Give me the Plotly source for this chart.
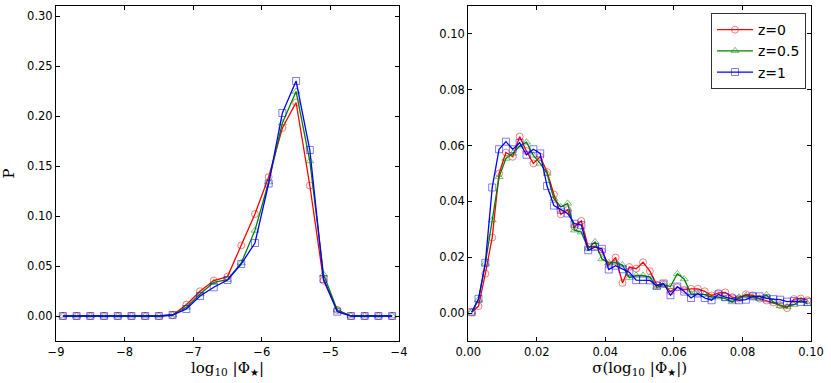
import plotly.graph_objects as go
from plotly.subplots import make_subplots

# ---- data: left panel (histogram of log10 |Phi_star|)
phi_x = [-8.9, -8.7, -8.5, -8.3, -8.1, -7.9, -7.7, -7.5, -7.3, -7.1, -6.9, -6.7, -6.5,
         -6.3, -6.1, -5.9, -5.7, -5.5, -5.3, -5.1, -4.9, -4.7, -4.5, -4.3, -4.1]
phi_z0 = [0, 0, 0, 0, 0, 0, 0, 0, 0.001, 0.0113, 0.0247, 0.0354, 0.0394,
          0.0706, 0.102, 0.139, 0.188, 0.2135, 0.1305, 0.0354, 0.006, 0, 0, 0, 0]
phi_z05 = [0, 0, 0, 0, 0, 0, 0, 0, 0.001, 0.0087, 0.022, 0.0337, 0.0364,
           0.053, 0.0856, 0.134, 0.193, 0.2245, 0.155, 0.0415, 0.006, 0, 0, 0, 0]
phi_z1 = [0, 0, 0, 0, 0, 0, 0, 0, 0.001, 0.007, 0.020, 0.0287, 0.036,
          0.052, 0.073, 0.1325, 0.203, 0.235, 0.166, 0.037, 0.0043, 0, 0, 0, 0]

# ---- data: right panel (histogram of sigma(log10 |Phi_star|))
sig_x = [round(0.001 + 0.002 * i, 3) for i in range(50)]
sig_z0 = [0.0003, 0.0025, 0.0141, 0.0271, 0.0500, 0.0575, 0.0560, 0.0632, 0.0580, 0.0536,
          0.0560, 0.0505, 0.0425, 0.0354, 0.0369, 0.0309, 0.0330, 0.0237, 0.0240, 0.0222,
          0.0172, 0.0199, 0.0108, 0.0165, 0.0159, 0.0182, 0.0150, 0.0101, 0.0104, 0.0077,
          0.0092, 0.0083, 0.0087, 0.0087, 0.0078, 0.0063, 0.0072, 0.0074, 0.0057, 0.0052,
          0.0067, 0.0063, 0.0052, 0.0045, 0.0038, 0.0029, 0.0018, 0.0050, 0.0052, 0.0046]
sig_z05 = [0.0003, 0.0048, 0.0178, 0.0333, 0.0488, 0.0554, 0.0572, 0.0598, 0.0612, 0.0565,
           0.0536, 0.0500, 0.0410, 0.0380, 0.0393, 0.0297, 0.0290, 0.0231, 0.0255, 0.0194,
           0.0180, 0.0180, 0.0172, 0.0127, 0.0135, 0.0135, 0.0129, 0.0092, 0.0102, 0.0095,
           0.0141, 0.0122, 0.0068, 0.0068, 0.0066, 0.0057, 0.0057, 0.0052, 0.0040, 0.0057,
           0.0063, 0.0057, 0.0052, 0.0065, 0.0040, 0.0026, 0.0022, 0.0030, 0.0046, 0.0033]
sig_z1 = [0.0003, 0.0051, 0.0180, 0.0450, 0.0587, 0.0614, 0.0587, 0.0610, 0.0567, 0.0587,
          0.0572, 0.0455, 0.0385, 0.0370, 0.0357, 0.0320, 0.0315, 0.0225, 0.0237, 0.0230,
          0.0156, 0.0170, 0.0157, 0.0146, 0.0118, 0.0118, 0.0117, 0.0098, 0.0106, 0.0064,
          0.0095, 0.0077, 0.0054, 0.0070, 0.0054, 0.0046, 0.0067, 0.0057, 0.0052, 0.0046,
          0.0048, 0.0060, 0.0060, 0.0053, 0.0050, 0.0048, 0.0041, 0.0043, 0.0040, 0.0040]

labels = ["z=0", "z=0.5", "z=1"]
line_colors = ["#ff0000", "#008000", "#0000ff"]
marker_colors = ["rgba(255,0,0,0.5)", "rgba(0,128,0,0.5)", "rgba(0,0,255,0.5)"]
symbols = ["circle-open", "triangle-up-open", "square-open"]

fig = make_subplots(rows=1, cols=2, horizontal_spacing=0.0)

left_series = [phi_z0, phi_z05, phi_z1]
right_series = [sig_z0, sig_z05, sig_z1]
for i in range(3):
    fig.add_trace(go.Scatter(
        x=phi_x, y=left_series[i], mode="lines+markers", name=labels[i],
        showlegend=False,
        line=dict(color=line_colors[i], width=1.3),
        marker=dict(symbol=symbols[i], size=7, color=marker_colors[i],
                    line=dict(width=1, color=marker_colors[i]))),
        row=1, col=1)
for i in range(3):
    fig.add_trace(go.Scatter(
        x=sig_x, y=right_series[i], mode="lines+markers", name=labels[i],
        showlegend=True,
        line=dict(color=line_colors[i], width=1.3),
        marker=dict(symbol=symbols[i], size=7, color=marker_colors[i],
                    line=dict(width=1, color=marker_colors[i]))),
        row=1, col=2)

axis_common = dict(showline=True, linecolor="black", linewidth=1, mirror="ticks",
                   ticks="inside", ticklen=4, tickcolor="black", showgrid=False,
                   zeroline=False, automargin=False,
                   tickfont=dict(family="DejaVu Sans", size=11.5, color="black"))
serif = dict(family="DejaVu Serif", size=15, color="black")
star = "<sub><span style='font-family:DejaVu Sans;font-size:10px'>★</span></sub>"

fig.update_xaxes(axis_common, row=1, col=1, domain=[0.0, 0.4543], range=[-9, -4],
                 tickvals=[-9, -8, -7, -6, -5, -4],
                 title=dict(text="log<sub>10</sub> |Φ" + star + "|", font=serif, standoff=2))
fig.update_yaxes(axis_common, row=1, col=1, range=[-0.025, 0.31],
                 tickvals=[0, 0.05, 0.1, 0.15, 0.2, 0.25, 0.3], tickformat=".2f",
                 title=dict(text="P", font=serif, standoff=12))
fig.update_xaxes(axis_common, row=1, col=2, domain=[0.546, 1.0], range=[0, 0.1],
                 tickvals=[0, 0.02, 0.04, 0.06, 0.08, 0.1], tickformat=".2f",
                 title=dict(text="σ(log<sub>10</sub> |Φ" + star + "|)", font=serif, standoff=2))
fig.update_yaxes(axis_common, row=1, col=2, range=[-0.01, 0.11],
                 tickvals=[0, 0.02, 0.04, 0.06, 0.08, 0.1], tickformat=".2f")

fig.update_layout(
    width=831, height=383,
    margin=dict(l=56, r=20, t=6, b=42),
    paper_bgcolor="white", plot_bgcolor="white",
    legend=dict(x=0.9934, y=0.979, xanchor="right", yanchor="top",
                bgcolor="white", bordercolor="#333333", borderwidth=1,
                font=dict(family="DejaVu Sans", size=14, color="black"),
                tracegroupgap=0, itemwidth=36),
)

fig.write_html("out.html", config={"displayModeBar": False},
               post_script="document.body.style.margin='0';document.body.style.padding='0';")
